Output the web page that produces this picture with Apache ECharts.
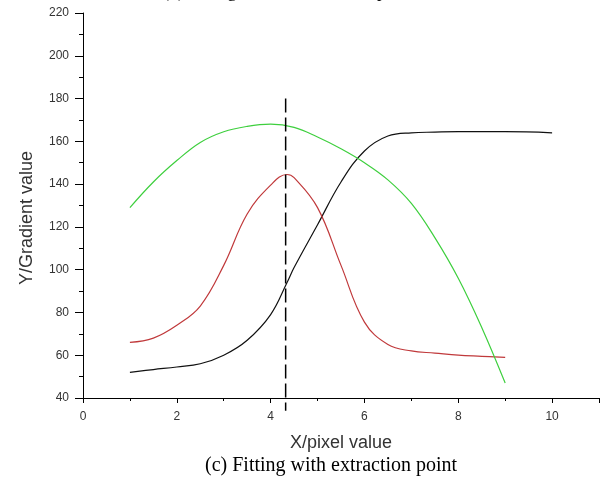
<!DOCTYPE html>
<html>
<head>
<meta charset="utf-8">
<script src="https://cdn.jsdelivr.net/npm/echarts@6/dist/echarts.min.js"></script>
<style>
    html, body { margin: 0; padding: 0; background: #fff; }
    #main { width: 611px; height: 483px; }
</style>
</head>
<body>
<div id="main"></div>
<script>
    // 数据
    var blackX = [1, 1.5, 2, 2.5, 3, 3.5, 4, 4.35, 4.5, 5, 5.5, 6, 6.5, 7, 7.5, 8, 9, 10];
    var blackY = [52, 53.3, 54.5, 56, 60, 67, 79, 94, 101, 121, 141, 155.5, 162.5, 164, 164.3, 164.5, 164.5, 164];

    var redX = [1, 1.5, 2, 2.5, 3, 3.5, 4, 4.35, 4.5, 5, 5.5, 6, 6.5, 7, 7.5, 8, 8.5, 9];
    var redY = [66, 68, 74, 83, 102, 126, 139.5, 144.5, 143, 129, 102, 75.5, 65, 62, 61, 60, 59.5, 59];

    var greenX = [1, 1.5, 2, 2.5, 3, 3.5, 4, 4.5, 5, 5.5, 6, 6.5, 7, 7.5, 8, 8.5, 9];
    var greenY = [129, 141, 151, 159.5, 164.5, 167, 168, 166.5, 162, 156.5, 150, 142, 131, 115, 96, 73, 47];

    var markX = 4.32;
    var markY = [180, 34];

    function pairs(xs, ys) {
        return xs.map(function (x, i) { return [x, ys[i]]; });
    }

    var myChart = echarts.init(document.getElementById('main'));

    var labelStyle = {
        color: '#333',
        fontFamily: 'Liberation Sans, Arial, sans-serif',
        fontSize: 12
    };

    var option = {
        animation: false,
        backgroundColor: '#fff',
        grid: {
            left: 83,
            right: 12,
            top: 13,
            bottom: 85
        },
        xAxis: {
            type: 'value',
            min: 0,
            max: 11,
            interval: 2,
            name: 'X/pixel value',
            nameLocation: 'middle',
            nameGap: 36,
            nameTextStyle: {
                color: '#333',
                fontFamily: 'Liberation Sans, Arial, sans-serif',
                fontSize: 18
            },
            axisLine: { lineStyle: { color: '#000', width: 1 } },
            axisTick: { inside: false, length: 5, lineStyle: { color: '#000' } },
            minorTick: { show: true, splitNumber: 2, length: 3, lineStyle: { color: '#000' } },
            axisLabel: Object.assign({ margin: 13, showMaxLabel: false }, labelStyle),
            splitLine: { show: false }
        },
        yAxis: {
            type: 'value',
            min: 40,
            max: 220,
            interval: 20,
            axisLine: { show: true, lineStyle: { color: '#000', width: 1 } },
            axisTick: { show: true, inside: false, length: 8, lineStyle: { color: '#000' } },
            minorTick: { show: true, splitNumber: 2, length: 4, lineStyle: { color: '#000' } },
            axisLabel: Object.assign({ margin: 14 }, labelStyle),
            splitLine: { show: false }
        },
        graphic: [
            {
                type: 'text',
                x: 27,
                y: 218,
                rotation: Math.PI / 2,
                style: {
                    text: 'Y/Gradient value',
                    fill: '#333',
                    font: '18px "Liberation Sans", Arial, sans-serif',
                    align: 'center',
                    verticalAlign: 'middle'
                }
            },
            {
                type: 'text',
                x: 205,
                y: 466,
                style: {
                    text: '(c) Fitting with extraction point',
                    fill: '#000',
                    font: '20px "Liberation Serif", "Times New Roman", serif',
                    align: 'left',
                    verticalAlign: 'middle'
                }
            },
            {
                type: 'text',
                x: 163,
                y: 1,
                style: {
                    text: '(b) Fitting without extraction point',
                    fill: '#000',
                    font: '18px "Liberation Serif", "Times New Roman", serif',
                    align: 'left',
                    verticalAlign: 'bottom'
                }
            }
        ],
        series: [
            {
                name: 'black',
                type: 'line',
                data: pairs(blackX, blackY),
                smooth: 0.4,
                showSymbol: false,
                lineStyle: { color: '#111', width: 1.2 }
            },
            {
                name: 'red',
                type: 'line',
                data: pairs(redX, redY),
                smooth: 0.4,
                showSymbol: false,
                lineStyle: { color: '#c0393b', width: 1.2 }
            },
            {
                name: 'green',
                type: 'line',
                data: pairs(greenX, greenY),
                smooth: 0.4,
                showSymbol: false,
                lineStyle: { color: '#3ecf3e', width: 1.2 }
            },
            {
                name: 'extraction',
                type: 'line',
                data: [[markX, markY[0]], [markX, markY[1]]],
                clip: false,
                showSymbol: false,
                lineStyle: { color: '#000', width: 1.5, type: [14, 5] }
            }
        ]
    };

    myChart.setOption(option);
</script>
</body>
</html>
